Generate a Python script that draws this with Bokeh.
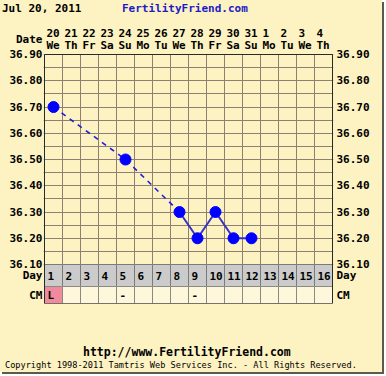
from bokeh.plotting import figure
from bokeh.layouts import column
from bokeh.models import (Range1d, LinearAxis, FixedTicker, PrintfTickFormatter,
                          Grid, Div)
from bokeh.core.properties import value
from bokeh.embed import file_html
from bokeh.resources import INLINE

# ---------------- data ----------------
cycle_days = [1, 2, 3, 4, 5, 6, 7, 8, 9, 10, 11, 12, 13, 14, 15, 16]
date_nums = ["20", "21", "22", "23", "24", "25", "26", "27", "28", "29", "30", "31",
             "1", "2", "3", "4"]
weekdays = ["We", "Th", "Fr", "Sa", "Su", "Mo", "Tu", "We", "Th", "Fr", "Sa", "Su",
            "Mo", "Tu", "We", "Th"]
cm_codes = ["L", "", "", "", "-", "", "", "", "-", "", "", "", "", "", "", ""]

temp_days = [1, 5, 8, 9, 10, 11, 12]
temps = [36.70, 36.50, 36.30, 36.20, 36.30, 36.20, 36.20]
dashed_until_day = 8   # gap-filled (dashed) connection up to this day

temp_ticks = [36.10, 36.20, 36.30, 36.40, 36.50, 36.60, 36.70, 36.80, 36.90]
title_date = "Jul 20, 2011"
site = "FertilityFriend.com"
footer_url = "http://www.FertilityFriend.com"
footer_copy = "Copyright 1998-2011 Tamtris Web Services Inc. - All Rights Reserved."

# ---------------- layout ----------------
W = 382
TOP_H, P_H, BOT_H = 18, 287, 67
COL = 18                   # px per day column
PXY = 262.5                # px per degree
T_LO, T_HI = 36.10, 36.90
DAY_H, CM_H = 22, 17
FL = 43                    # frame left (px, inside figure)
FT = 4                     # frame top
TT = 36                    # y pixel of T_HI line
PAD = 1.0 / COL            # 1px padding on each side of the columns
NC = len(cycle_days)
FR = FL + COL * NC + 2
Y0 = T_LO - (DAY_H + CM_H) / PXY
Y_TOP = T_HI + (TT - FT) / PXY
FB = TT + int(round((T_HI - Y0) * PXY))

BG = "#FCF2C2"
GRID = "#8E7F72"
FONT = "DejaVu Sans Mono"


def yd(py):
    return T_HI - (py - TT) / PXY


p = figure(width=W, height=P_H, output_backend="svg", toolbar_location=None, title=None,
           x_range=Range1d(0.5 - PAD, 0.5 + NC + PAD), y_range=Range1d(Y0, Y_TOP),
           x_axis_location=None, y_axis_location=None,
           min_border_left=FL, min_border_right=W - FR,
           min_border_top=FT, min_border_bottom=P_H - FB,
           background_fill_color=BG, border_fill_color=BG,
           outline_line_color=None)
p.xgrid.visible = False
p.ygrid.visible = False

# horizontal grid every 0.05 inside the temperature area
hticks = [round(T_LO + 0.05 * k, 2) for k in range(17)]
p.add_layout(Grid(dimension=1, ticker=FixedTicker(ticks=hticks),
                  grid_line_color=GRID, grid_line_width=1))
# vertical column lines
vlines = [d + 0.5 for d in cycle_days[:-1]]
p.segment(x0=vlines, y0=T_LO, x1=vlines, y1=T_HI, line_color=GRID, line_width=1)

# Day / CM rows
day_y = T_LO - (DAY_H / 2) / PXY
cm_y = T_LO - (DAY_H + CM_H / 2) / PXY
date_lab_y = yd(21)
p.rect(x=cycle_days, y=day_y, width=1, height=DAY_H / PXY,
       fill_color="#CBCBCB", line_color="#7a7a7a", line_width=1)
cm_colors = ["#F28A9E" if c == "L" else "#FEF7DC" for c in cm_codes]
p.rect(x=cycle_days, y=cm_y, width=1, height=CM_H / PXY,
       fill_color=cm_colors, line_color="#8a8a80", line_width=1)
# chart border
p.rect(x=[(0.5 + 0.5 + NC) / 2], y=[(Y0 + T_HI) / 2], width=NC, height=T_HI - Y0,
       fill_color=None, line_color="#2a2a2a", line_width=1)

common = dict(text_align="left", text_baseline="middle", text_font=value(FONT),
              text_font_style="bold", text_font_size="11px", text_color="black")
xs_left = [d - 0.5 for d in cycle_days]
p.text(x=xs_left, y=day_y, text=[str(d) for d in cycle_days], x_offset=3, **common)
p.text(x=xs_left, y=cm_y, text=cm_codes, x_offset=3, **common)
p.text(x=xs_left, y=yd(14), text=date_nums, x_offset=2, **common)
p.text(x=xs_left, y=yd(27), text=weekdays, x_offset=2, **common)

# temperature series
dash_d = [d for d in temp_days if d <= dashed_until_day]
dash_t = [t for d, t in zip(temp_days, temps) if d <= dashed_until_day]
solid_d = [d for d in temp_days if d >= dashed_until_day]
solid_t = [t for d, t in zip(temp_days, temps) if d >= dashed_until_day]
p.line(dash_d, dash_t, line_color="#1f1fd8", line_width=1.6, line_dash="5 5")
p.line(solid_d, solid_t, line_color="#3434c4", line_width=2)
p.scatter(temp_days, temps, size=11, fill_color="#0000FF", line_color="#0000FF")

# temperature axes, with row captions as extra labelled ticks
for side, extra, standoff in (("left", {date_lab_y: "Date", day_y: "Day", cm_y: "CM"}, 1),
                              ("right", {day_y: "Day", cm_y: "CM"}, 3)):
    ax = LinearAxis(ticker=FixedTicker(ticks=temp_ticks + list(extra.keys())),
                    formatter=PrintfTickFormatter(format="%.2f"),
                    major_label_overrides=extra,
                    axis_line_color=None, major_tick_out=0, major_tick_in=0,
                    major_tick_line_color=None, minor_tick_line_color=None,
                    major_label_standoff=standoff, major_label_text_font=FONT,
                    major_label_text_font_style="bold",
                    major_label_text_font_size="11px",
                    major_label_text_color="black")
    p.add_layout(ax, side)

# header and footer texts
font_css = "font-family:'DejaVu Sans Mono';color:black;white-space:nowrap;"
top = Div(text=(f"<div style=\"{font_css}font-weight:bold;font-size:11px;"
                f"line-height:18px;padding-left:2px\">"
                f"<span style=\"display:inline-block;width:120px\">{title_date}</span>"
                f"<span style=\"color:#1c1cc4\">{site}</span></div>"),
          width=W, height=TOP_H, margin=(0, 0, 0, 0),
          styles={"background-color": BG})
bottom = Div(text=(f"<div style=\"{font_css}\">"
                   f"<div style=\"height:41px\"></div>"
                   f"<div style=\"font-weight:bold;font-size:11.5px;line-height:12px;"
                   f"padding-left:83px\">{footer_url}</div>"
                   f"<div style=\"font-size:8.6px;line-height:14px;padding-left:5px\">"
                   f"{footer_copy}</div></div>"),
             width=W, height=BOT_H, margin=(0, 0, 0, 0),
             styles={"background-color": BG})

layout = column(top, p, bottom, spacing=0,
                styles={"background-color": BG, "box-shadow": "2px 2px 0 0 #5a5a50"})

open("out.html", "w").write(file_html(layout, INLINE))
